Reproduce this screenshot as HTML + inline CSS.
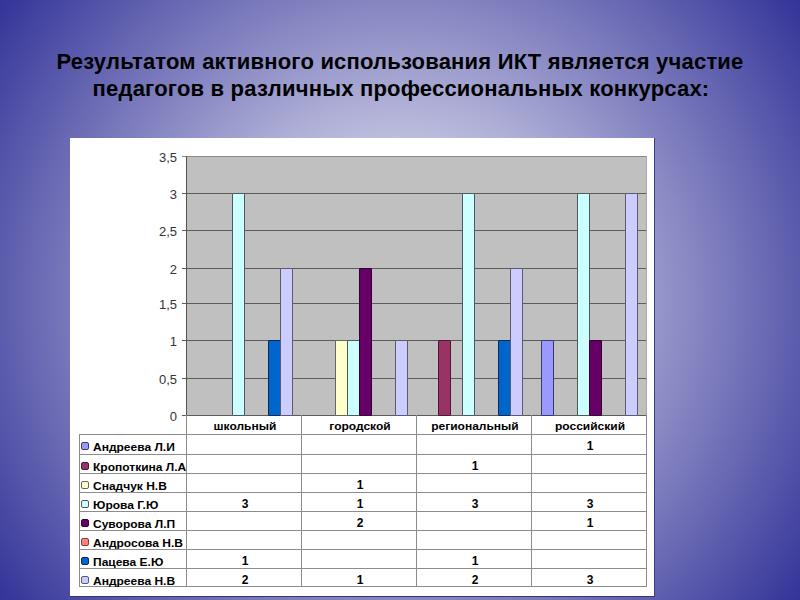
<!DOCTYPE html>
<html><head><meta charset="utf-8">
<style>
*{margin:0;padding:0;box-sizing:border-box}
html,body{width:800px;height:600px;overflow:hidden}
body{position:relative;background:radial-gradient(circle farthest-corner at 50% 50%, #ffffff 0%, #333399 100%);font-family:"Liberation Sans",sans-serif;-webkit-font-smoothing:antialiased}
.t{position:absolute;left:0;width:800px;text-align:center;font-weight:bold;font-size:22px;letter-spacing:0.2px;color:#000;white-space:nowrap;line-height:26px}
.box{position:absolute;left:70px;top:138px;width:585px;height:459px;background:#fff;border-right:1px solid #3c3c80;border-bottom:1px solid #34347a}
.a{position:absolute}
.yl{position:absolute;left:100px;width:77px;font-size:13px;color:#333;text-align:right;line-height:13px}
.bar{position:absolute;border:1px solid #555;border-radius:1px}
.hl{position:absolute;height:1px;background:#8c8c8c}
.vl{position:absolute;width:1px;background:#8c8c8c}
.ct{position:absolute;font-weight:bold;font-size:12px;text-align:center;line-height:12px;color:#000}
.nm{position:absolute;left:93px;font-weight:bold;font-size:12px;line-height:12px;color:#000;white-space:nowrap;transform:scaleY(0.86);transform-origin:0 100%}
.hd{position:absolute;font-weight:bold;font-size:12px;text-align:center;line-height:12px;color:#000;transform:scaleY(0.89);transform-origin:50% 100%}
.key{position:absolute;left:81px;width:8px;height:8px;border:1px solid #555;border-radius:2px}
</style></head><body>
<div class="t" style="top:49px">Результатом активного использования ИКТ является участие</div>
<div class="t" style="top:76px;left:1px">педагогов в различных профессиональных конкурсах:</div>
<div class="box"></div>

<div class="a" style="left:186px;top:156px;width:461px;height:259px;background:#c0c0c0;border-right:1px solid #a8a8a8"></div>
<div class="hl" style="left:182px;top:415px;width:464px;background:#5c5c5c"></div>
<div class="yl" style="top:410.25px">0</div>
<div class="hl" style="left:182px;top:378px;width:464px;background:#5c5c5c"></div>
<div class="yl" style="top:373.25px">0,5</div>
<div class="hl" style="left:182px;top:340px;width:464px;background:#5c5c5c"></div>
<div class="yl" style="top:335.25px">1</div>
<div class="hl" style="left:182px;top:303px;width:464px;background:#5c5c5c"></div>
<div class="yl" style="top:298.25px">1,5</div>
<div class="hl" style="left:182px;top:268px;width:464px;background:#5c5c5c"></div>
<div class="yl" style="top:263.25px">2</div>
<div class="hl" style="left:182px;top:230px;width:464px;background:#5c5c5c"></div>
<div class="yl" style="top:225.25px">2,5</div>
<div class="hl" style="left:182px;top:193px;width:464px;background:#5c5c5c"></div>
<div class="yl" style="top:188.25px">3</div>
<div class="hl" style="left:182px;top:156px;width:464px;background:#8a8a8a"></div>
<div class="yl" style="top:151.25px">3,5</div>
<div class="vl" style="left:186px;top:156px;height:260px;background:#555"></div>
<div class="bar" style="left:540.5px;top:340px;width:13px;height:76px;background:#9999FF;border-color:#3a3a66"></div>
<div class="bar" style="left:437.5px;top:340px;width:13px;height:76px;background:#993366;border-color:#4a1a33"></div>
<div class="bar" style="left:334.5px;top:340px;width:13px;height:76px;background:#FFFFCC;border-color:#66665a"></div>
<div class="bar" style="left:231.5px;top:193px;width:13px;height:223px;background:#CCFFFF;border-color:#4d5a5a"></div>
<div class="bar" style="left:346.5px;top:340px;width:13px;height:76px;background:#CCFFFF;border-color:#4d5a5a"></div>
<div class="bar" style="left:461.5px;top:193px;width:13px;height:223px;background:#CCFFFF;border-color:#4d5a5a"></div>
<div class="bar" style="left:576.5px;top:193px;width:13px;height:223px;background:#CCFFFF;border-color:#4d5a5a"></div>
<div class="bar" style="left:358.5px;top:268px;width:13px;height:148px;background:#660066;border-color:#330033"></div>
<div class="bar" style="left:588.5px;top:340px;width:13px;height:76px;background:#660066;border-color:#330033"></div>
<div class="bar" style="left:267.5px;top:340px;width:13px;height:76px;background:#0066CC;border-color:#0a2a55"></div>
<div class="bar" style="left:497.5px;top:340px;width:13px;height:76px;background:#0066CC;border-color:#0a2a55"></div>
<div class="bar" style="left:279.5px;top:268px;width:13px;height:148px;background:#CCCCFF;border-color:#5a5a70"></div>
<div class="bar" style="left:394.5px;top:340px;width:13px;height:76px;background:#CCCCFF;border-color:#5a5a70"></div>
<div class="bar" style="left:509.5px;top:268px;width:13px;height:148px;background:#CCCCFF;border-color:#5a5a70"></div>
<div class="bar" style="left:624.5px;top:193px;width:13px;height:223px;background:#CCCCFF;border-color:#5a5a70"></div>
<div class="hl" style="left:79px;top:434px;width:568px"></div>
<div class="hl" style="left:79px;top:454px;width:568px"></div>
<div class="hl" style="left:79px;top:473px;width:568px"></div>
<div class="hl" style="left:79px;top:492px;width:568px"></div>
<div class="hl" style="left:79px;top:511px;width:568px"></div>
<div class="hl" style="left:79px;top:530px;width:568px"></div>
<div class="hl" style="left:79px;top:549px;width:568px"></div>
<div class="hl" style="left:79px;top:568px;width:568px"></div>
<div class="hl" style="left:79px;top:586px;width:568px"></div>
<div class="vl" style="left:79px;top:434px;height:153px"></div>
<div class="vl" style="left:186px;top:415px;height:172px"></div>
<div class="vl" style="left:301px;top:415px;height:172px"></div>
<div class="vl" style="left:416px;top:415px;height:172px"></div>
<div class="vl" style="left:531px;top:415px;height:172px"></div>
<div class="vl" style="left:646px;top:415px;height:172px"></div>
<div class="hd" style="left:187.5px;top:420.0px;width:115.0px">школьный</div>
<div class="hd" style="left:302.5px;top:420.0px;width:115.0px">городской</div>
<div class="hd" style="left:417.5px;top:420.0px;width:115.0px">региональный</div>
<div class="hd" style="left:532.5px;top:420.0px;width:115.0px">российский</div>
<div class="key" style="top:442px;background:#9999FF;border-color:#3a3a66"></div>
<div class="nm" style="top:441px">Андреева Л.И</div>
<div class="ct" style="left:532.5px;top:440.0px;width:115.0px">1</div>
<div class="key" style="top:462px;background:#993366;border-color:#4a1a33"></div>
<div class="nm" style="top:461px">Кропоткина Л.А</div>
<div class="ct" style="left:417.5px;top:460.0px;width:115.0px">1</div>
<div class="key" style="top:481px;background:#FFFFCC;border-color:#66665a"></div>
<div class="nm" style="top:480px">Снадчук Н.В</div>
<div class="ct" style="left:302.5px;top:479.0px;width:115.0px">1</div>
<div class="key" style="top:500px;background:#CCFFFF;border-color:#4d5a5a"></div>
<div class="nm" style="top:499px">Юрова Г.Ю</div>
<div class="ct" style="left:187.5px;top:498.0px;width:115.0px">3</div>
<div class="ct" style="left:302.5px;top:498.0px;width:115.0px">1</div>
<div class="ct" style="left:417.5px;top:498.0px;width:115.0px">3</div>
<div class="ct" style="left:532.5px;top:498.0px;width:115.0px">3</div>
<div class="key" style="top:519px;background:#660066;border-color:#330033"></div>
<div class="nm" style="top:518px">Суворова Л.П</div>
<div class="ct" style="left:302.5px;top:517.0px;width:115.0px">2</div>
<div class="ct" style="left:532.5px;top:517.0px;width:115.0px">1</div>
<div class="key" style="top:538px;background:#FF8080;border-color:#804040"></div>
<div class="nm" style="top:537px">Андросова Н.В</div>
<div class="key" style="top:557px;background:#0066CC;border-color:#0a2a55"></div>
<div class="nm" style="top:556px">Пацева Е.Ю</div>
<div class="ct" style="left:187.5px;top:555.0px;width:115.0px">1</div>
<div class="ct" style="left:417.5px;top:555.0px;width:115.0px">1</div>
<div class="key" style="top:576px;background:#CCCCFF;border-color:#5a5a70"></div>
<div class="nm" style="top:575px">Андреева Н.В</div>
<div class="ct" style="left:187.5px;top:574.0px;width:115.0px">2</div>
<div class="ct" style="left:302.5px;top:574.0px;width:115.0px">1</div>
<div class="ct" style="left:417.5px;top:574.0px;width:115.0px">2</div>
<div class="ct" style="left:532.5px;top:574.0px;width:115.0px">3</div>
</body></html>
